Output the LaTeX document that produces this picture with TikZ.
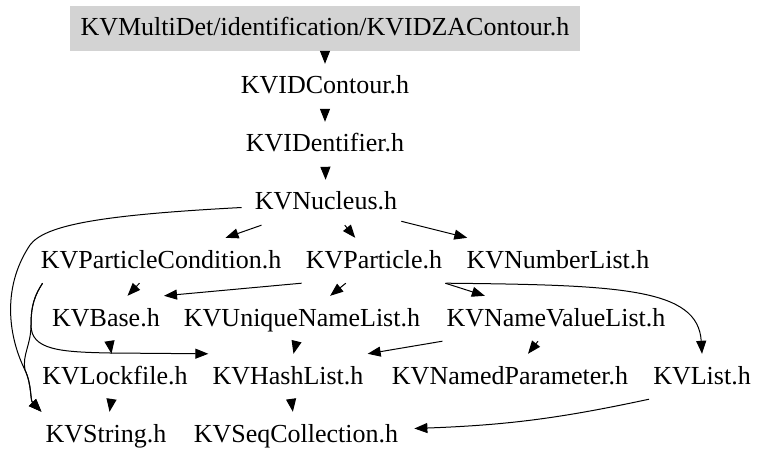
\documentclass[tikz,border=0pt]{standalone}
\usepackage{fontspec}
\setmainfont{Liberation Serif}
\usetikzlibrary{arrows.meta}
\definecolor{boxgray}{HTML}{D3D3D3}

\begin{document}
\begin{tikzpicture}[x=1pt,y=-1pt,
    file/.style={inner xsep=4pt,inner ysep=10pt,text height=20pt,
      text depth=5pt,anchor=base,font=\fontsize{26}{30}\selectfont},
    dep/.style={-{Triangle[length=13pt,width=10pt]},line width=1pt}]
  \useasboundingbox (0,0) rectangle (768,465);
  %\draw[very thin,lightgray] (0,0) grid[step=50] (768,465);
  \node[file,fill=boxgray,inner xsep=11pt] (top) at (325,36)
    {KVMultiDet/identification/KVIDZAContour.h};
  \node[file] (idcontour) at (325,94) {KVIDContour.h};
  \node[file] (identifier) at (325,152) {KVIDentifier.h};
  \node[file] (nucleus) at (326,210) {KVNucleus.h};
  \node[file] (pcond) at (161,268) {KVParticleCondition.h};
  \node[file] (particle) at (374,268) {KVParticle.h};
  \node[file] (numlist) at (558,268) {KVNumberList.h};
  \node[file] (base) at (106,326) {KVBase.h};
  \node[file] (uniqlist) at (302,326) {KVUniqueNameList.h};
  \node[file] (nvlist) at (556,326) {KVNameValueList.h};
  \node[file] (lockfile) at (115,384) {KVLockfile.h};
  \node[file] (hashlist) at (288,384) {KVHashList.h};
  \node[file] (namedpar) at (510,384) {KVNamedParameter.h};
  \node[file] (kvlist) at (702,384) {KVList.h};
  \node[file] (kvstring) at (106,442) {KVString.h};
  \node[file] (seqcoll) at (296,442) {KVSeqCollection.h};

  \draw[dep] (top) -- (idcontour);
  \draw[dep] (idcontour) -- (identifier);
  \draw[dep] (identifier) -- (nucleus);
  \draw[dep] (nucleus) -- (pcond);
  \draw[dep] (nucleus) -- (particle);
  \draw[dep] (nucleus) -- (numlist);
  \draw[dep] ([xshift=-9pt,yshift=-5pt]nucleus.west)
    .. controls (100,215) and (45,225) .. (30,245)
    .. controls (0,290) and (10,340) .. (25,370)
    .. controls (32,385) and (30,400) .. (kvstring.north west);
  \draw[dep] ([xshift=6pt]pcond.south west)
    .. controls (35,295) and (31,305) .. (31,325)
    .. controls (31,345) and (22,355) .. (25,370)
    .. controls (32,385) and (30,400) .. (kvstring.north west);
  \draw[dep] ([xshift=6pt]pcond.south west)
    .. controls (35,295) and (31,305) .. (31,325)
    .. controls (31,350) and (60,352) .. (110,353) -- (hashlist.north west);
  \draw[dep] (pcond) -- (base);
  \draw[dep] (particle.south west) -- (base.north east);
  \draw[dep] (particle) -- (uniqlist);
  \draw[dep] (particle) -- (nvlist);
  \draw[dep] (particle.south east)
    .. controls (620,285) and (698,288) .. (kvlist.north);
  \draw[dep] (base) -- (lockfile);
  \draw[dep] (uniqlist) -- (hashlist);
  \draw[dep] (nvlist.south west) -- (hashlist.north east);
  \draw[dep] (nvlist) -- (namedpar);
  \draw[dep] (lockfile) -- (kvstring);
  \draw[dep] (hashlist) -- (seqcoll);
  \draw[dep] (kvlist.south west) to[bend left=5]
    ([xshift=12pt,yshift=6pt]seqcoll.east);
\end{tikzpicture}
\end{document}
